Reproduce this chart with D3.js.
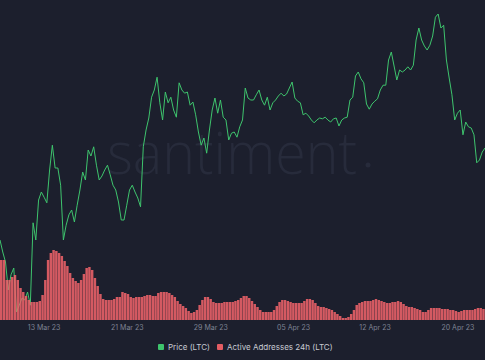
<!DOCTYPE html>
<html><head><meta charset="utf-8">
<script src="https://cdn.jsdelivr.net/npm/d3@7"></script>
<style>
html,body{margin:0;padding:0;background:#1c1f2d;}
svg{display:block;}
</style></head>
<body>
<svg id="chart" width="485" height="360"></svg>
<script>
// ---- data ----
const startDate = "2023-03-10T00:00:00Z";
const endDate = "2023-04-23T00:00:00Z";
const stepHours = 6;
const priceLTC = [
71.25,69.75,68.5,65,66.9,67.75,62.25,63.1,64,63.75,
64.75,63.1,73.4,71.25,76.25,77.25,76.6,75.9,80,83.1,
80.25,80.25,78.1,71.25,73.1,74.4,75,73.5,75.6,77.5,
79.75,78.75,82.5,81.75,82.9,80.6,78.75,79.25,80,80.6,
79.4,78.1,77.5,76,73.75,73.75,75.6,77.5,78.1,77.25,
76.5,75.4,82.9,85,86.5,89.1,90,91.6,88.4,86.25,
89.75,88.4,89.1,87.5,86.6,90.9,90,89.6,89.75,88.1,
88.5,86.9,84.75,83.1,84,82.1,85,87.5,89,87.1,
88.75,86.6,86.25,83.75,84.6,84.75,84.1,85.4,86.25,90.25,
89,88.75,88.75,89.4,90,88.75,88.1,89.1,87.5,88.4,
88.75,89.25,89.6,89.25,89.5,90.25,91,89,88.6,88.4,
86.9,87.1,86.75,86.25,85.9,86.25,86.5,86.4,86.6,86.25,
86,86.4,86.5,85.5,86.25,86.5,86.6,88.75,89.1,91.75,
92.25,91.4,90.9,88.25,87.6,88.25,88.6,88.9,90,90.6,
90.6,93.75,94.75,93,91.25,92.5,92.25,92.5,92.9,92.5,
93.1,96.25,97.75,96.25,95.5,95,95.6,96.75,99.1,99.5,
97.75,98.1,93.75,91.5,89.4,86.25,87.1,87.5,84.4,86,
85.4,85.25,84.4,80.9,81.25,82.25,82.75
];
// active addresses, thousands
const activeAddresses = [
600,600,400,400,430,450,400,320,280,240,
200,180,180,180,190,250,400,600,670,700,
690,670,640,590,540,470,420,390,370,400,
460,520,530,500,420,340,260,210,200,200,
200,210,230,230,280,270,260,230,220,230,
230,230,240,250,250,240,240,270,280,280,
280,270,250,230,190,160,140,120,90,70,
80,100,150,200,230,230,210,180,170,170,
170,180,180,180,180,190,200,220,240,240,
220,190,160,130,100,80,80,80,80,100,
140,180,200,200,190,180,170,170,170,170,
190,210,210,200,170,140,130,130,120,110,
100,80,60,40,20,20,30,60,100,150,
170,180,190,190,190,200,210,200,190,180,
170,170,180,180,190,180,160,140,130,130,
120,110,100,80,80,100,120,120,120,120,
110,110,110,100,100,90,80,90,100,100,
100,100,110,120,120,110
];
const tickDates = ["2023-03-13T23:00:00Z","2023-03-21T12:00:00Z","2023-03-29T02:00:00Z","2023-04-05T14:00:00Z","2023-04-12T23:30:00Z","2023-04-20T12:00:00Z"];
const tickLabels = ["13 Mar 23","21 Mar 23","29 Mar 23","05 Apr 23","12 Apr 23","20 Apr 23"];
const seriesNames = ["Price (LTC)","Active Addresses 24h (LTC)"];
const seriesColors = ["#3ec46d","#e35c63"];

// ---- chart ----
const W = 485, H = 360;
const svg = d3.select("#chart");
const t0 = new Date(startDate).getTime();
const hour = 3600e3;
const priceData = priceLTC.map((v,i)=>({t:new Date(t0+i*stepHours*hour), v}));
const aaData = activeAddresses.map((v,i)=>({t:new Date(t0+i*stepHours*hour), v}));

const x = d3.scaleUtc().domain([new Date(startDate), new Date(endDate)]).range([0, W]);
const yP = d3.scaleLinear().domain([60,100]).range([330,10]);
const yA = d3.scaleLinear().domain([0,800]).range([320,240]);

svg.append("rect").attr("width",W).attr("height",H).attr("fill","#1c1f2d");

// watermark
svg.append("text").attr("x",107).attr("y",174)
  .attr("font-family","'Open Sans', sans-serif").attr("font-weight",300)
  .attr("font-size",58).attr("fill","#272b3b")
  .attr("textLength",250).attr("lengthAdjust","spacingAndGlyphs")
  .text("santiment");
svg.append("circle").attr("cx",368).attr("cy",165).attr("r",2.5).attr("fill","#272b3b");

// price line
svg.append("path").datum(priceData)
  .attr("fill","none").attr("stroke",seriesColors[0]).attr("stroke-width",1)
  .attr("stroke-linejoin","round")
  .attr("d", d3.line().x(d=>x(d.t)).y(d=>yP(d.v)));

// bars
const bw = x(new Date(t0+stepHours*hour)) - x(new Date(t0));
svg.append("g").selectAll("rect").data(aaData).join("rect")
  .attr("x", d=>x(d.t)).attr("width", bw-0.3)
  .attr("y", d=>yA(d.v)).attr("height", d=>yA(0)-yA(d.v))
  .attr("fill","#ee636a").attr("fill-opacity",0.88);

// x axis
const ax = svg.append("g").attr("transform","translate(0,322)")
  .call(d3.axisBottom(x).tickValues(tickDates.map(d=>new Date(d)))
    .tickFormat((d,i)=>tickLabels[i]).tickSize(0).tickPadding(3));
ax.select(".domain").remove();
ax.selectAll("text").attr("fill","#7f8494").attr("font-size",7)
  .attr("font-family","Inter, 'Noto Sans', sans-serif");

// legend
const leg = svg.append("g").attr("font-family","Inter, 'Noto Sans', sans-serif").attr("font-size",8);
const legX = [158, 217];
seriesNames.forEach((n,i)=>{
  leg.append("rect").attr("x",legX[i]).attr("y",344).attr("width",6).attr("height",6).attr("rx",1).attr("fill",seriesColors[i]);
  leg.append("text").attr("x",legX[i]+10).attr("y",350).attr("fill","#c8cad2").text(n);
});
</script>
</body></html>
